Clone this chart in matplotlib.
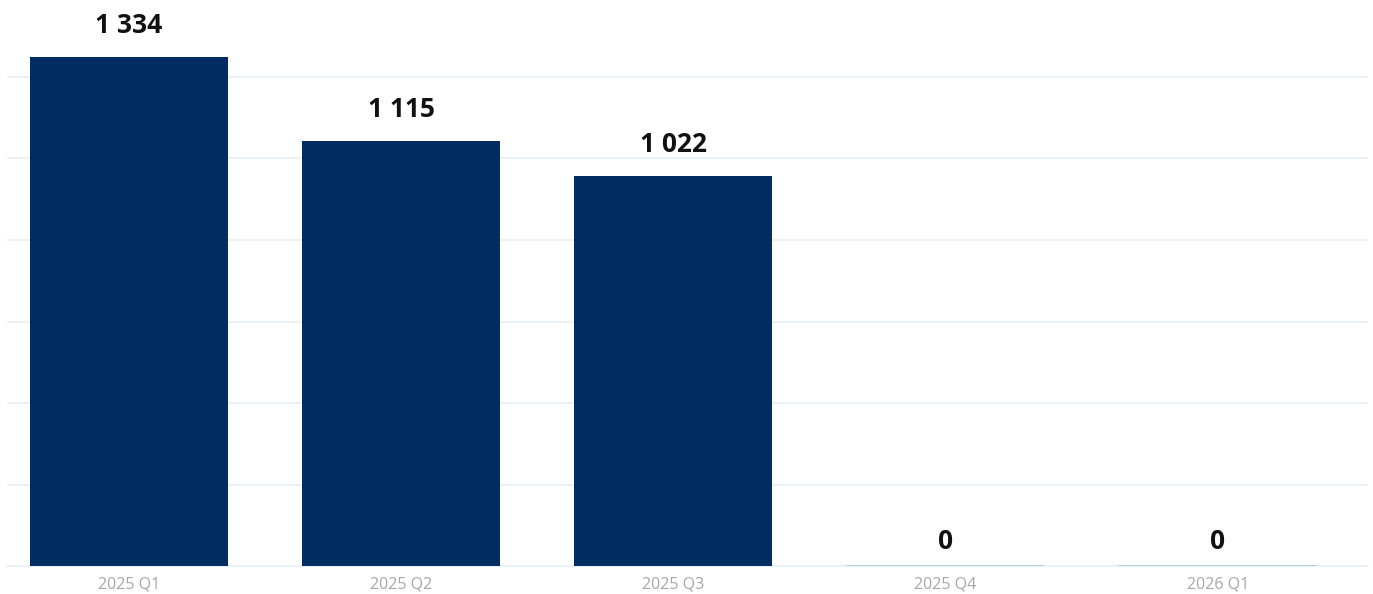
import matplotlib
matplotlib.use("Agg")
import matplotlib.pyplot as plt
import numpy as np

plt.rcParams["font.family"] = ["Open Sans", "DejaVu Sans"]

# Quarterly totals
quarters = ["2025 Q1", "2025 Q2", "2025 Q3", "2025 Q4", "2026 Q1"]
values = [1334, 1115, 1022, 0, 0]

BAR_COLOR = "#022d62"
ZERO_COLOR = "#a9c6df"
GRID_COLOR = "#e6f1fa"
TICK_COLOR = "#a6a6a6"

fig = plt.figure(figsize=(13.73, 5.94), dpi=100)
ax = fig.add_axes([7 / 1373, 28 / 594, 1361 / 1373, 509 / 594])

x = np.arange(len(quarters))
width = 0.727
ax.bar(x, values, width=width, color=BAR_COLOR, zorder=3)

# Zero-valued quarters get a thin placeholder line at the baseline
for xi, v in zip(x, values):
    if v == 0:
        ax.hlines(v, xi - width / 2, xi + width / 2, color=ZERO_COLOR,
                  linewidth=1.2, zorder=4)


def fmt(v):
    return f"{v:,}".replace(",", " ")


for xi, v in zip(x, values):
    ax.annotate(fmt(v), (xi, v), xytext=(0, 8 if v == 0 else 13),
                textcoords="offset points", ha="center", va="bottom",
                fontsize=19, fontweight="bold", color="#111111",
                zorder=5)

ymax = max(values)
ax.set_ylim(0, ymax)
ax.set_xlim(-0.448, 4.552)
step = ymax * 81.5 / 509
ax.set_yticks(np.arange(0, ymax, step))
ax.yaxis.grid(True, color=GRID_COLOR, linewidth=1.2, zorder=0)
ax.set_axisbelow(True)

ax.set_xticks(x)
ax.set_xticklabels(quarters, fontsize=11.5, color=TICK_COLOR)
ax.tick_params(axis="x", length=0, pad=7.5)
ax.tick_params(axis="y", length=0, labelleft=False)

for side in ["top", "right", "left"]:
    ax.spines[side].set_visible(False)
ax.spines["bottom"].set_color(GRID_COLOR)
ax.spines["bottom"].set_linewidth(1.2)
ax.patch.set_alpha(0)

fig.savefig("out.png", dpi=100, facecolor="white")
